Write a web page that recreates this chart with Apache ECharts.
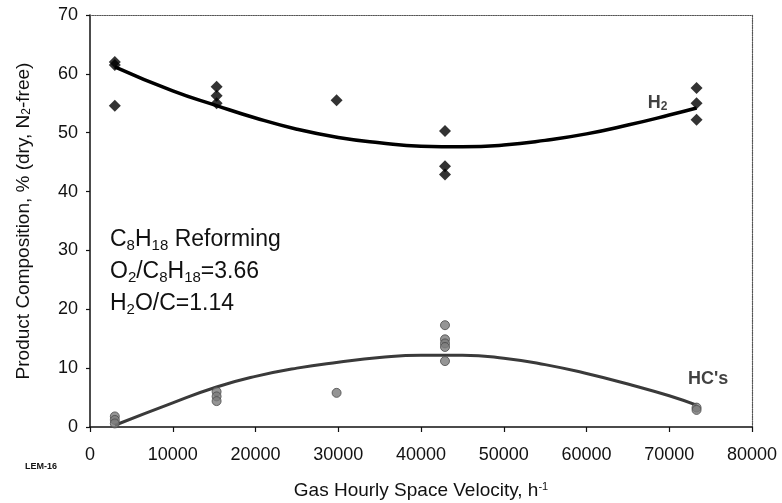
<!DOCTYPE html>
<html>
<head>
<meta charset="utf-8">
<script src="https://cdn.jsdelivr.net/npm/echarts@6/dist/echarts.min.js"></script>
<style>
  html, body { margin: 0; padding: 0; background: #fff; }
  #chart { width: 782px; height: 503px; }
</style>
</head>
<body>
<div id="chart"></div>
<script>
// Product composition vs. gas hourly space velocity (C8H18 reforming)
const xTicks = { min: 0, max: 80000, interval: 10000 };
const yTicks = { min: 0, max: 70, interval: 10 };

// Measured H2 content, [GHSV, %]
const h2Points = [
  [3000, 62.0], [3000, 61.5], [3000, 54.6],
  [15300, 57.8], [15300, 56.3], [15300, 55.0],
  [29800, 55.5],
  [42900, 50.3], [42900, 44.3], [42900, 42.9],
  [73300, 57.6], [73300, 55.0], [73300, 52.2]
];

// Measured hydrocarbon content, [GHSV, %]
const hcPoints = [
  [3000, 1.8], [3000, 1.2], [3000, 0.6],
  [15300, 6.0], [15300, 5.2], [15300, 4.4],
  [29800, 5.8],
  [42900, 17.3], [42900, 14.9], [42900, 14.2], [42900, 13.6], [42900, 11.2],
  [73300, 3.3], [73300, 2.9]
];

// Trend curves through the measurements
const h2Trend = [
  [3000, 61.2], [10000, 57.1], [15300, 54.6], [20000, 52.5], [25000, 50.6],
  [30000, 49.2], [35000, 48.3], [40000, 47.7], [45000, 47.6], [50000, 47.9],
  [55000, 48.7], [60000, 49.8], [65000, 51.3], [70000, 53.0], [73300, 54.2]
];
const hcTrend = [
  [3000, 0.3], [10000, 4.1], [15300, 6.8], [20000, 8.6], [25000, 10.0],
  [30000, 11.0], [35000, 11.8], [40000, 12.2], [45000, 12.2], [50000, 11.7],
  [55000, 10.6], [60000, 9.1], [65000, 7.3], [70000, 5.3], [73300, 3.7]
];

// Curve labels, [GHSV, %, text]
const curveLabels = [
  [68600, 55.0, 'H{sub|2}'],
  [74700, 8.2, "HC's"]
];

const FONT = '"Liberation Sans", Arial, sans-serif';

const chart = echarts.init(document.getElementById('chart'), null, { renderer: 'canvas' });

chart.setOption({
  animation: false,
  backgroundColor: '#ffffff',
  grid: { left: 90, right: 30, top: 15, bottom: 76, outerBoundsMode: 'none' },
  xAxis: [
    {
      type: 'value',
      min: xTicks.min, max: xTicks.max, interval: xTicks.interval,
      name: 'Gas Hourly Space Velocity, h{sup|-1}',
      nameLocation: 'middle',
      nameGap: 54,
      nameTextStyle: {
        fontFamily: FONT, fontSize: 19, color: '#111',
        rich: {
          sup: { fontFamily: FONT, fontSize: 11, color: '#111', verticalAlign: 'top', lineHeight: 12 }
        }
      },
      axisLine: { show: true, onZero: false, lineStyle: { color: '#111', width: 1.5 } },
      axisTick: { show: true, inside: false, length: 5, lineStyle: { color: '#111', width: 1.2 } },
      axisLabel: { fontFamily: FONT, fontSize: 18, color: '#111', margin: 19, formatter: v => String(v) },
      splitLine: { show: false }
    },
    {
      type: 'value', position: 'top',
      min: xTicks.min, max: xTicks.max, interval: xTicks.interval,
      axisLine: { show: true, onZero: false, lineStyle: { color: '#555', width: 1.2, type: 'dotted' } },
      axisTick: { show: false }, axisLabel: { show: false }, splitLine: { show: false }
    }
  ],
  yAxis: [
    {
      type: 'value',
      min: yTicks.min, max: yTicks.max, interval: yTicks.interval,
      name: 'Product Composition, % (dry, N{sub|2}-free)',
      nameLocation: 'middle',
      nameGap: 57,
      nameTextStyle: {
        fontFamily: FONT, fontSize: 19, color: '#111',
        rich: {
          sub: { fontFamily: FONT, fontSize: 12, color: '#111', verticalAlign: 'bottom', lineHeight: 18 }
        }
      },
      axisLine: { show: true, onZero: false, lineStyle: { color: '#111', width: 1.5 } },
      axisTick: { show: true, inside: false, length: 4, lineStyle: { color: '#111', width: 1.2 } },
      axisLabel: { fontFamily: FONT, fontSize: 18, color: '#111', margin: 12 },
      splitLine: { show: false }
    },
    {
      type: 'value', position: 'right',
      min: yTicks.min, max: yTicks.max, interval: yTicks.interval,
      axisLine: { show: true, onZero: false, lineStyle: { color: '#555', width: 1.2, type: 'dotted' } },
      axisTick: { show: false }, axisLabel: { show: false }, splitLine: { show: false }
    }
  ],
  series: [
    {
      name: 'H2 trend', type: 'line', data: h2Trend, smooth: true,
      showSymbol: false, symbol: 'none',
      lineStyle: { color: '#000', width: 3.5 }, z: 2
    },
    {
      name: 'HC trend', type: 'line', data: hcTrend, smooth: true,
      showSymbol: false, symbol: 'none',
      lineStyle: { color: '#3a3a3a', width: 3 }, z: 2
    },
    {
      name: 'H2', type: 'scatter', data: h2Points,
      symbol: 'diamond', symbolSize: 12,
      itemStyle: { color: '#000' }, z: 3
    },
    {
      name: "HC's", type: 'scatter', data: hcPoints,
      symbol: 'circle', symbolSize: 9,
      itemStyle: { color: '#7a7a7a', borderColor: '#4a4a4a', borderWidth: 1 }, z: 3
    },
    {
      name: 'labels', type: 'scatter', symbol: 'circle', symbolSize: 1, silent: true,
      itemStyle: { color: 'rgba(0,0,0,0)' },
      data: curveLabels.map(d => ({ value: [d[0], d[1]], text: d[2] })),
      label: {
        show: true, position: 'inside',
        formatter: p => p.data.text,
        fontFamily: FONT, fontSize: 18, fontWeight: 'bold', color: '#111',
        rich: {
          sub: { fontFamily: FONT, fontSize: 12, fontWeight: 'bold', color: '#111', verticalAlign: 'bottom', lineHeight: 19 }
        }
      }, z: 4
    }
  ],
  graphic: [
    {
      type: 'text', left: 110, top: 224,
      style: {
        text: 'C{sub|8}H{sub|18} Reforming\nO{sub|2}/C{sub|8}H{sub|18}=3.66\nH{sub|2}O/C=1.14',
        fontFamily: FONT, fontSize: 23, fill: '#111', lineHeight: 32,
        rich: {
          sub: { fontFamily: FONT, fontSize: 15, fill: '#111', verticalAlign: 'bottom', lineHeight: 18, padding: [0, 0, 3, 0] }
        }
      }
    },
    {
      type: 'text', left: 25, top: 462,
      style: { text: 'LEM-16', fontFamily: FONT, fontSize: 9, fontWeight: 'bold', fill: '#111' }
    }
  ]
});
</script>
</body>
</html>
